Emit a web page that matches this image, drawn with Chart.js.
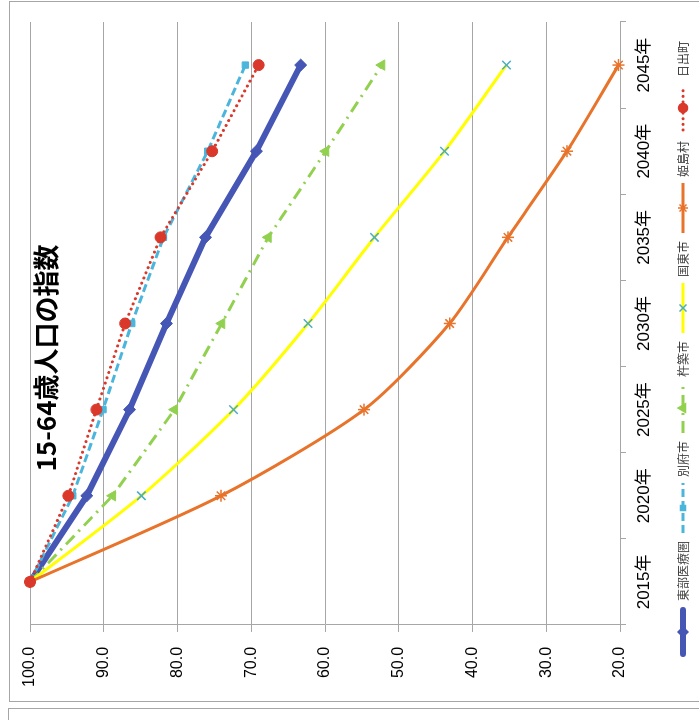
<!DOCTYPE html>
<html>
<head>
<meta charset="utf-8">
<script src="https://cdn.jsdelivr.net/npm/chart.js@4/dist/chart.umd.min.js"></script>
<style>
  html, body { margin: 0; padding: 0; background: #fff; width: 699px; height: 720px; overflow: hidden; }
  #frame { position: absolute; left: 9px; top: 1px; width: 700px; height: 701px; border: 1px solid #a6a6a6; box-sizing: border-box; }
  #frame2 { position: absolute; left: 8px; top: 708px; width: 700px; height: 40px; border: 1px solid #a6a6a6; box-sizing: border-box; }
  #wrap { position: absolute; left: 0; top: 720px; width: 720px; height: 699px; transform-origin: 0 0; transform: rotate(-90deg); }
  canvas { display: block; }
</style>
</head>
<body>
<div id="frame"></div>
<div id="frame2"></div>
<div id="wrap"><canvas id="myChart" width="720" height="699"></canvas></div>
<script>
// data
const years = ['2015年', '2020年', '2025年', '2030年', '2035年', '2040年', '2045年'];
const seriesNames = ['東部医療圏', '別府市', '杵築市', '国東市', '姫島村', '日出町'];
const toubu = [100, 92.3, 86.5, 81.5, 76.2, 69.3, 63.3];
const beppu = [100, 94.2, 90.1, 86.2, 81.9, 75.9, 70.8];
const kitsuki = [100, 88.8, 80.4, 74.0, 67.7, 59.9, 52.3];
const kunisaki = [100, 84.9, 72.4, 62.3, 53.3, 43.8, 35.4];
const himeshima = [100, 74.1, 54.7, 43.1, 35.2, 27.2, 20.2];
const hiji = [100, 94.8, 91.0, 87.1, 82.3, 75.3, 69.0];
const valueMin = 20;
const valueMax = 100;
const valueStep = 10;
const title = '15-64歳人口の指数';

const jp = '"Noto Sans CJK JP", sans-serif';
const num = '"Liberation Sans", "Noto Sans CJK JP", sans-serif';

// styles per series
const styles = [
  { color: '#4556b5', width: 6, dash: [], cap: 'round', point: 'rectRot', r: 6, pColor: '#4556b5' },
  { color: '#4bb5db', width: 3, dash: [8, 4], cap: 'butt', point: 'rect', r: 4.5, pColor: '#4bb5db' },
  { color: '#92d050', width: 3, dash: [12, 6, 2, 6], cap: 'butt', point: 'triangle', r: 6, pColor: '#92d050' },
  { color: '#ffff00', width: 3, dash: [], cap: 'butt', point: 'crossRot', r: 6, pColor: '#4bacc6' },
  { color: '#e8732a', width: 3, dash: [], cap: 'butt', point: 'star', r: 6, pColor: '#e8732a' },
  { color: '#d9382a', width: 3, dash: [0.1, 5.5], cap: 'round', point: 'circle', r: 5.5, pColor: '#d9382a' }
];
const values = [toubu, beppu, kitsuki, kunisaki, himeshima, hiji];

// legend icons (line + marker)
const icons = styles.map(s => {
  const c = document.createElement('canvas');
  c.width = 50; c.height = 16;
  const g = c.getContext('2d');
  g.strokeStyle = s.color;
  g.lineWidth = s.width;
  g.lineCap = s.cap;
  g.setLineDash(s.dash);
  g.beginPath();
  g.moveTo(s.cap === 'round' ? 3 : 0, 8);
  g.lineTo(s.cap === 'round' ? 47 : 50, 8);
  g.stroke();
  g.setLineDash([]);
  g.fillStyle = s.pColor;
  g.strokeStyle = s.pColor;
  g.lineWidth = 1.5;
  Chart.helpers.drawPoint(g, { pointStyle: s.point, radius: s.r - 1, rotation: 0, borderWidth: 1.5 }, 25, 8);
  return c;
});

const titlePlugin = {
  id: 'overlayTitle',
  afterLayout(chart) {
    // nudge legend to the right like the original
    if (chart.legend) {
      chart.legend.left += 13;
      chart.legend.right += 13;
    }
  },
  afterDraw(chart) {
    const ctx = chart.ctx;
    ctx.save();
    ctx.font = 'bold 26px ' + jp;
    ctx.fillStyle = '#000';
    ctx.textAlign = 'center';
    ctx.textBaseline = 'middle';
    ctx.fillText(title, 362, 46);
    ctx.restore();
  }
};

const datasets = seriesNames.map((name, i) => {
  const s = styles[i];
  return {
    label: name,
    data: values[i],
    borderColor: s.color,
    backgroundColor: s.pColor,
    borderWidth: s.width,
    borderDash: s.dash,
    borderCapStyle: s.cap,
    tension: (i === 3 || i === 4) ? 0.25 : 0,
    pointStyle: s.point,
    pointRadius: s.r,
    pointBackgroundColor: s.pColor,
    pointBorderColor: s.pColor,
    pointBorderWidth: (i === 3 || i === 4) ? 1.5 : 1,
    clip: false,
    order: 6 - i
  };
});

const ctx = document.getElementById('myChart').getContext('2d');
window.myChart = new Chart(ctx, {
  type: 'line',
  data: { labels: years, datasets: datasets },
  plugins: [titlePlugin],
  options: {
    responsive: false,
    animation: false,
    layout: { padding: { left: 18, right: 22, top: 30, bottom: 0 } },
    plugins: {
      tooltip: { enabled: false },
      legend: {
        position: 'bottom',
        labels: {
          usePointStyle: true,
          pointStyleWidth: 50,
          padding: 8,
          color: '#404040',
          font: { family: jp, size: 12 },
          generateLabels: (chart) => {
            const items = Chart.defaults.plugins.legend.labels.generateLabels(chart);
            items.forEach(it => { it.pointStyle = icons[it.datasetIndex]; });
            return items;
          },
          sort: (a, b) => a.datasetIndex - b.datasetIndex
        }
      }
    },
    scales: {
      x: {
        offset: true,
        afterFit: (scale) => { scale.height = 49; },
        grid: { display: true, drawOnChartArea: false, offset: true, tickLength: 6, color: '#a6a6a6' },
        border: { display: true, color: '#a6a6a6' },
        ticks: { padding: 8, color: '#000', font: { family: num, size: 17 }, maxRotation: 0 }
      },
      y: {
        min: valueMin,
        max: valueMax,
        grid: { color: '#a6a6a6', tickLength: 7 },
        border: { display: true, color: '#a6a6a6' },
        ticks: {
          stepSize: valueStep,
          padding: 15,
          color: '#000',
          font: { family: 'Liberation Sans', size: 16 },
          callback: (v) => v.toFixed(1)
        }
      }
    }
  }
});
</script>
</body>
</html>
